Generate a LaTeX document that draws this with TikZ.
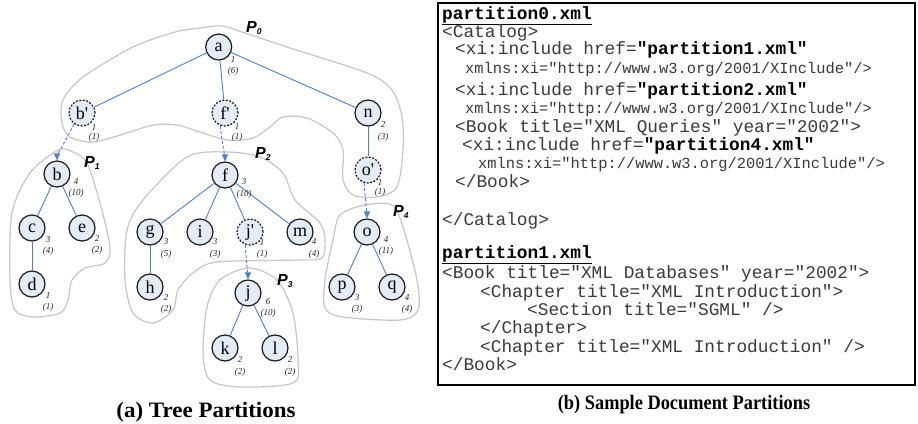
\documentclass[tikz,border=0pt]{standalone}
\usepackage{fontspec}
\setmainfont{Liberation Serif}
\setsansfont{Liberation Sans}
\setmonofont{Liberation Mono}
\usetikzlibrary{arrows.meta}

\definecolor{edgeblue}{HTML}{4F7FCB}
\definecolor{nodefill}{HTML}{E4ECF7}
\definecolor{partline}{HTML}{C6C6C6}
\definecolor{codegray}{HTML}{3A3A3A}

\tikzset{
  tnode/.style={circle, draw=black!90, line width=1.2bp, fill=nodefill,
    minimum size=26bp, inner sep=0pt, font=\fontsize{18bp}{18bp}\selectfont},
  proxy/.style={tnode, dash pattern=on 2bp off 1.5bp},
  edge/.style={draw=edgeblue, line width=0.9bp},
  link/.style={draw=edgeblue, line width=0.9bp, dash pattern=on 3bp off 2bp,
    -{Triangle[length=7bp,width=6bp,fill=edgeblue]}},
  part/.style={draw=partline, line width=1.2bp},
  wt/.style={font=\fontsize{9bp}{9bp}\selectfont\itshape, text=black!85, inner sep=0pt},
  plabel/.style={anchor=base west, inner sep=0pt,
    font=\fontsize{16bp}{16bp}\selectfont\sffamily\bfseries\itshape},
  code/.style={anchor=base west, inner sep=0pt, text=codegray,
    font=\fontsize{17.8bp}{18bp}\selectfont\ttfamily},
  codesmall/.style={code, font=\fontsize{15.4bp}{16bp}\selectfont\ttfamily},
  hdr/.style={code, text=black, font=\fontsize{17.8bp}{18bp}\selectfont\ttfamily\bfseries},
  caption/.style={anchor=base, inner sep=0pt}
}
\newcommand{\hb}[1]{\textcolor{black}{\textbf{#1}}}
\newcommand{\psub}[1]{P\raisebox{-0.3ex}{\fontsize{8.5bp}{8.5bp}\selectfont #1}}
\newcommand{\pr}{\textquotesingle}

\begin{document}
\begin{tikzpicture}[x=1bp, y=-1bp]
\fill[white] (0,0) rectangle (918,423);
\useasboundingbox (0,0) rectangle (918,423);

% ---- partition outlines ----
\draw[part] plot[smooth cycle] coordinates {
  (200,28) (222,26) (245,33) (290,48) (367,73) (392,90) (402,117) (403,150)
  (397,187) (377,197) (353,195) (343,180) (343,150) (333,133) (307,118)
  (283,117) (270,127) (253,138) (227,140) (200,132) (177,125) (153,125)
  (127,133) (93,142) (70,137) (62,123) (63,100) (83,77) (133,47) (175,32)};
\draw[part] plot[smooth cycle] coordinates {
  (58,150) (73,152) (87,163) (100,203) (110,247) (105,263) (85,268)
  (72,280) (68,300) (60,313) (33,317) (15,310) (10,280) (12,213) (30,173)};
\draw[part] plot[smooth cycle] coordinates {
  (227,152) (260,157) (283,173) (295,200) (320,223) (325,240) (322,258)
  (300,260) (217,262) (193,273) (178,290) (173,310) (153,323) (133,313)
  (125,280) (127,230) (143,200) (187,157)};
\draw[part] plot[smooth cycle] coordinates {
  (249,268) (277,280) (293,313) (298,360) (293,383) (240,387) (210,380)
  (203,353) (207,307) (220,280)};
\draw[part] plot[smooth cycle] coordinates {
  (365,205) (392,205) (403,227) (417,280) (418,310) (400,320) (343,317)
  (325,308) (325,280) (333,240) (340,215)};

% ---- partition labels ----
\node[plabel] (P0) at (246,32) {\psub{0}};
\node[plabel] (P1) at (84,167) {\psub{1}};
\node[plabel] (P2) at (255,158) {\psub{2}};
\node[plabel] (P3) at (277,285) {\psub{3}};
\node[plabel] (P4) at (393,216) {\psub{4}};

% ---- tree nodes ----
\node[tnode] (a) at (218.7,47) {a};
\node[proxy] (bp) at (82,113) {b\pr};
\node[proxy] (fp) at (225,113) {f\pr};
\node[tnode] (n) at (368,113) {n};
\node[proxy] (op) at (368,170) {o\pr};
\node[tnode] (b) at (57,174) {b};
\node[tnode] (f) at (225,175) {f};
\node[tnode] (c) at (32,228) {c};
\node[tnode] (e) at (82,228) {e};
\node[tnode] (d) at (32,284) {d};
\node[tnode] (g) at (150,232) {g};
\node[tnode] (i) at (200,232) {i};
\node[proxy] (jp) at (250,232) {j\pr};
\node[tnode] (m) at (300,232) {m};
\node[tnode] (h) at (150,287) {h};
\node[tnode] (j) at (248,293) {j};
\node[tnode] (k) at (225,348) {k};
\node[tnode] (l) at (275,348) {l};
\node[tnode] (o) at (367,232) {o};
\node[tnode] (p) at (342,287) {p};
\node[tnode] (q) at (392,287) {q};

% ---- tree edges ----
\foreach \s/\t in {a/bp, a/fp, a/n, n/op, b/c, b/e, c/d, f/g, f/i, f/jp,
                   f/m, g/h, j/k, j/l, o/p, o/q}
  \draw[edge] (\s) -- (\t);

% ---- cross-partition links ----
\draw[link] (bp) .. controls +(-10,14) and +(0,-16) .. (b);
\draw[link] (fp) .. controls +(-5,14) and +(0,-14) .. (f);
\draw[link] (op) .. controls +(-4,14) and +(0,-14) .. (o);
\draw[link] (jp) .. controls +(-5,14) and +(0,-14) .. (j);

% ---- node weights ----
\foreach \nm/\x/\y/\yy/\u/\v in {
    a/233/60/71/1/(6), bp/94/128/137/1/(1), fp/237/127/137/1/(1),
    n/383/125/137/2/(3), op/380/183/192/1/(1), b/76/182/193/4/(10),
    f/244/182/194/3/(10), c/48/240/251/3/(4), e/97/239/250/2/(2),
    d/48/296/307/1/(1), g/166/242/254/3/(5), i/215/242/254/3/(3),
    jp/262/243/254/1/(1), m/314/242/254/4/(4), h/166/298/309/2/(2),
    j/268/302/313/6/(10), k/240/360/372/2/(2), l/290/360/372/2/(2),
    o/386/240/251/4/(11), p/357/298/309/3/(3), q/407/298/309/4/(4)} {
  \node[wt] (wn-\nm) at (\x,\y) {\u};
  \node[wt] (wc-\nm) at (\x,\yy) {\v};
}

% ---- document partitions ----
\draw[line width=2bp] (438,3) rectangle (915,385);
\node[hdr] (h0) at (442,19) {\underline{partition0.xml}};
\node[code] (l01) at (442,37) {<Catalog>};
\node[code] (l02) at (455,54) {<xi:include href=\hb{"partition1.xml"}};
\node[codesmall] (l03) at (465,73) {xmlns:xi="http://www.w3.org/2001/XInclude"/>};
\node[code] (l04) at (455,95) {<xi:include href=\hb{"partition2.xml"}};
\node[codesmall] (l05) at (465,113) {xmlns:xi="http://www.w3.org/2001/XInclude"/>};
\node[code] (l06) at (455,132) {<Book title="XML Queries" year="2002">};
\node[code] (l07) at (462,150) {<xi:include href=\hb{"partition4.xml"}};
\node[codesmall] (l08) at (478,168) {xmlns:xi="http://www.w3.org/2001/XInclude"/>};
\node[code] (l09) at (455,187) {</Book>};
\node[code] (l10) at (442,225) {</Catalog>};
\node[hdr] (h1) at (442,258) {\underline{partition1.xml}};
\node[code] (l11) at (442,278) {<Book title="XML Databases" year="2002">};
\node[code] (l12) at (480,297) {<Chapter title="XML Introduction">};
\node[code] (l13) at (527,315) {<Section title="SGML" />};
\node[code] (l14) at (480,333) {</Chapter>};
\node[code] (l15) at (480,352) {<Chapter title="XML Introduction" />};
\node[code] (l16) at (442,370) {</Book>};

% ---- captions ----
\node[caption, font=\fontsize{22bp}{22bp}\selectfont\bfseries] (capa) at (206,417)
  {\scalebox{1.045}[1]{(a) Tree Partitions}};
\node[caption, font=\fontsize{20.5bp}{21bp}\selectfont\bfseries] (capb) at (684,409)
  {\scalebox{0.895}[1]{(b) Sample Document Partitions}};
\end{tikzpicture}
\end{document}
